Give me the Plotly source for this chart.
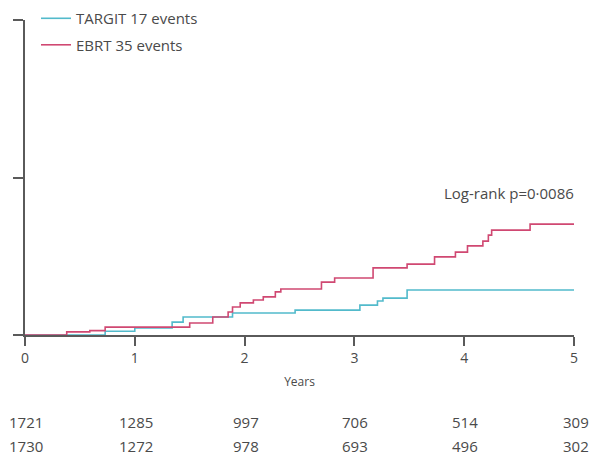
import plotly.graph_objects as go

# Kaplan-Meier style cumulative event curves (%)
targit_t = [0, 0.73, 1.00, 1.34, 1.44, 1.89, 2.46, 3.05, 3.21, 3.26, 3.48, 5.0]
targit_v = [0, 0.12, 0.22, 0.41, 0.57, 0.70, 0.79, 0.95, 1.08, 1.17, 1.43, 1.43]

ebrt_t = [0, 0.38, 0.59, 0.73, 1.50, 1.71, 1.85, 1.89, 1.96, 2.08, 2.17, 2.28, 2.33,
          2.70, 2.82, 3.17, 3.48, 3.73, 3.92, 4.03, 4.17, 4.22, 4.25, 4.60, 5.0]
ebrt_v = [0, 0.10, 0.14, 0.25, 0.38, 0.57, 0.73, 0.89, 1.02, 1.11, 1.21, 1.37, 1.46,
          1.68, 1.81, 2.13, 2.25, 2.48, 2.63, 2.83, 2.98, 3.17, 3.33, 3.52, 3.52]

years = [0, 1, 2, 3, 4, 5]
at_risk_targit = ["1721", "1285", "997", "706", "514", "309"]
at_risk_ebrt = ["1730", "1272", "978", "693", "496", "302"]

TEAL = "#52bacb"
PINK = "#d04872"
TXT = "#4a4a4a"
AX = "#5a5a5a"
FONT = "Open Sans"

fig = go.Figure()
fig.add_trace(go.Scatter(x=targit_t, y=targit_v, mode="lines", line_shape="hv",
                         line=dict(color=TEAL, width=1.6), name="TARGIT 17 events",
                         legendgroup="a"))
fig.add_trace(go.Scatter(x=ebrt_t, y=ebrt_v, mode="lines", line_shape="hv",
                         line=dict(color=PINK, width=1.6), name="EBRT 35 events",
                         legendgroup="b"))

fig.update_xaxes(range=[0, 5], tickvals=years, ticktext=[str(y) for y in years],
                 showline=True, linecolor=AX, linewidth=1.5, ticks="outside",
                 ticklen=9, tickwidth=1.5, tickcolor=AX, showgrid=False, zeroline=False,
                 tickfont=dict(family=FONT, size=14, color=TXT),
                 title=dict(text="Years", font=dict(family=FONT, size=12, color=TXT), standoff=12))
fig.update_yaxes(range=[0, 10], tickvals=[0, 5, 10], showticklabels=False,
                 showline=True, linecolor=AX, linewidth=1.5, ticks="outside",
                 ticklen=10, tickwidth=1.5, tickcolor=AX, showgrid=False, zeroline=False)

fig.add_annotation(x=5, y=4.5, xref="x", yref="y", text="Log-rank p=0·0086",
                   showarrow=False, xanchor="right", yanchor="middle", xshift=2,
                   font=dict(family=FONT, size=15, color=TXT))

for t, a, b in zip(years, at_risk_targit, at_risk_ebrt):
    xs = 2 if t == years[-1] else 1
    fig.add_annotation(x=t, y=0, xref="x", yref="paper", yshift=-87, xshift=xs, text=a,
                       showarrow=False, xanchor="center", yanchor="middle",
                       font=dict(family=FONT, size=15, color=TXT))
    fig.add_annotation(x=t, y=0, xref="x", yref="paper", yshift=-111, xshift=xs, text=b,
                       showarrow=False, xanchor="center", yanchor="middle",
                       font=dict(family=FONT, size=15, color=TXT))

fig.update_layout(
    width=594, height=457,
    margin=dict(l=25, r=20, t=20, b=122, autoexpand=False),
    paper_bgcolor="white", plot_bgcolor="white",
    showlegend=True,
    legend=dict(x=0.02, y=1.057, xanchor="left", yanchor="top",
                font=dict(family=FONT, size=15, color=TXT),
                bgcolor="rgba(0,0,0,0)", itemwidth=30, tracegroupgap=4),
)

# remove the default 8px page margin so the figure fills the window exactly
fig.write_html("out.html", config={"displayModeBar": False},
               post_script="document.body.style.margin='0';")
